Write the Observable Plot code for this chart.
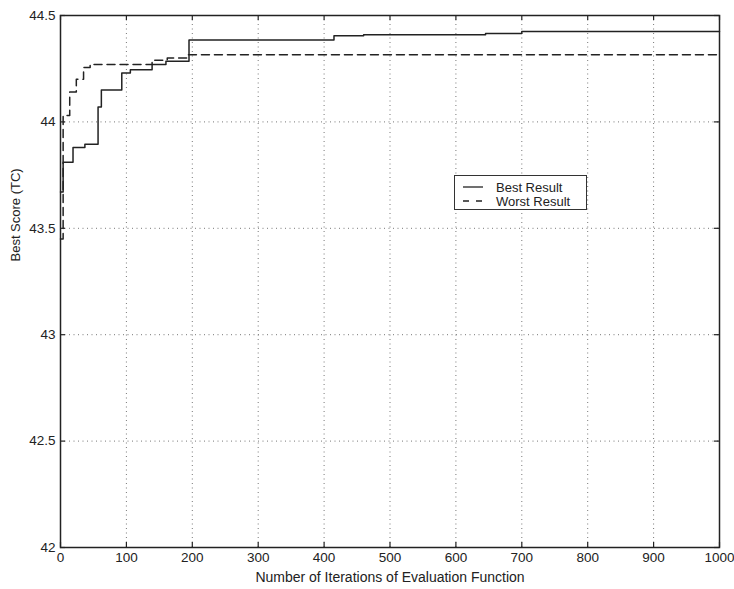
<!DOCTYPE html>
<html>
<head>
<meta charset="utf-8">
<script src="https://cdn.jsdelivr.net/npm/d3@7"></script>
<script src="https://cdn.jsdelivr.net/npm/@observablehq/plot@0.6"></script>
<style>
  html, body { margin: 0; padding: 0; background: #fff; }
  #wrap { position: relative; width: 734px; height: 589px; font-family: "Liberation Sans", Arial, Helvetica, sans-serif; }
  #legend { position: absolute; left: 454px; top: 175px; width: 133px; height: 35px; border: 1px solid #333; background: #fff; box-sizing: border-box; font-size: 13px; color: #222; }
  #legend .row { position: absolute; left: 0; height: 14px; display: flex; align-items: center; }
  #legend svg { margin-left: 8px; margin-right: 13px; }
</style>
</head>
<body>
<div id="wrap"></div>
<script>
// Best Result (solid) — step points: iteration, score
const bestIter  = [0, 4, 19, 37, 57, 62, 93, 106, 139, 160, 195, 415, 460, 645, 700, 1000];
const bestScore = [43.67, 43.81, 43.88, 43.895, 44.07, 44.15, 44.23, 44.245, 44.27, 44.285, 44.385, 44.405, 44.41, 44.415, 44.425, 44.425];
// Worst Result (dashed)
const worstIter  = [0, 4, 14, 24, 35, 45, 139, 162, 192, 1000];
const worstScore = [43.45, 44.03, 44.14, 44.2, 44.256, 44.27, 44.29, 44.30, 44.315, 44.315];

const xTicks = [0, 100, 200, 300, 400, 500, 600, 700, 800, 900, 1000];
const yTicks = [42, 42.5, 43, 43.5, 44, 44.5];
const xLabel = "Number of Iterations of Evaluation Function";
const yLabel = "Best Score (TC)";
const seriesNames = ["Best Result", "Worst Result"];

const best = bestIter.map((x, i) => ({x, y: bestScore[i]}));
const worst = worstIter.map((x, i) => ({x, y: worstScore[i]}));

const W = 734, H = 589;
const mL = 60, mR = 15, mT = 15, mB = 42;
const plotH = H - mT - mB, plotW = W - mL - mR;
const font = '"Liberation Sans", Arial, Helvetica, sans-serif';
const ink = "#222";

const chart = Plot.plot({
  width: W, height: H,
  marginLeft: mL, marginRight: mR, marginTop: mT, marginBottom: mB,
  style: {fontFamily: font, background: "#fff", color: ink},
  x: {domain: [0, 1000]},
  y: {domain: [42, 44.5]},
  marks: [
    Plot.gridX(xTicks, {stroke: "#777", strokeOpacity: 1, strokeDasharray: "1,3.5"}),
    Plot.gridY(yTicks, {stroke: "#777", strokeOpacity: 1, strokeDasharray: "1,3.5"}),
    Plot.line(best, {x: "x", y: "y", curve: "step-after", stroke: ink, strokeWidth: 1.5}),
    Plot.line(worst, {x: "x", y: "y", curve: "step-after", stroke: ink, strokeWidth: 1.5, strokeDasharray: "8,5"}),
    // inward ticks
    Plot.tickX(xTicks, {x: d => d, insetTop: plotH - 5, stroke: ink, strokeWidth: 1.2}),
    Plot.tickX(xTicks, {x: d => d, insetBottom: plotH - 5, stroke: ink, strokeWidth: 1.2}),
    Plot.tickY(yTicks, {y: d => d, insetRight: plotW - 5, stroke: ink, strokeWidth: 1.2}),
    Plot.tickY(yTicks, {y: d => d, insetLeft: plotW - 5, stroke: ink, strokeWidth: 1.2}),
    Plot.frame({stroke: ink, strokeWidth: 1.5}),
    Plot.axisX(xTicks, {tickSize: 0, tickPadding: 5, fontSize: 13.5, label: null, tickFormat: d => String(d), fill: ink}),
    Plot.axisY(yTicks, {tickSize: 0, tickPadding: 5, fontSize: 13.5, label: null, tickFormat: d => String(d), fill: ink}),
    Plot.text([xLabel], {text: d => d, frameAnchor: "bottom", dy: 34, fontSize: 14, fill: ink}),
    Plot.text([yLabel], {text: d => d, frameAnchor: "left", rotate: -90, dx: -45, dy: -20, fontSize: 13, fill: ink})
  ]
});

const wrap = document.getElementById("wrap");
wrap.appendChild(chart);

const legend = document.createElement("div");
legend.id = "legend";
const dashes = [null, "6,7"];
seriesNames.forEach((name, i) => {
  const row = document.createElement("div");
  row.className = "row";
  row.style.top = (4 + i * 14) + "px";
  row.innerHTML = `<svg width="20" height="10"><line x1="0" x2="20" y1="5" y2="5" stroke="${ink}" stroke-width="1.3" ${dashes[i] ? `stroke-dasharray="${dashes[i]}"` : ""}/></svg><span>${name}</span>`;
  legend.appendChild(row);
});
wrap.appendChild(legend);
</script>
</body>
</html>
